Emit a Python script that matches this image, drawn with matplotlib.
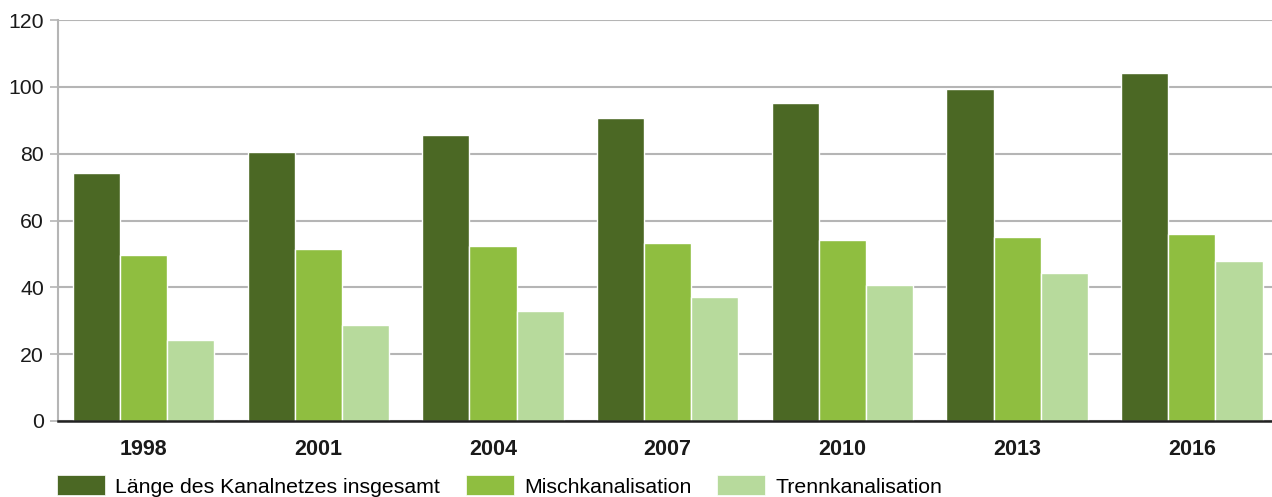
import numpy as np
import matplotlib.pyplot as plt
from matplotlib.patches import Patch

plt.rcParams['font.family'] = ['Liberation Sans', 'DejaVu Sans']

years = ['1998', '2001', '2004', '2007', '2010', '2013', '2016']
total = [74.2, 80.5, 85.6, 90.7, 95.2, 99.3, 104.1]
misch = [49.7, 51.5, 52.4, 53.3, 54.2, 55.1, 56.0]
trenn = [24.2, 28.7, 32.9, 37.1, 40.7, 44.3, 47.9]
labels = ['Länge des Kanalnetzes insgesamt', 'Mischkanalisation', 'Trennkanalisation']
colors = ['#4b6824', '#8fbe40', '#b7da9c']

fig = plt.figure(figsize=(12.72, 4.97), dpi=100)
ax = fig.add_axes([58 / 1272, 1 - 421 / 497, 1 - 58 / 1272, 401 / 497])

x = np.arange(len(years))
w = 0.27
for i, vals in enumerate([total, misch, trenn]):
    ax.bar(x + (i - 1) * w, vals, width=w, color=colors[i], edgecolor='white',
           linewidth=1, zorder=3)

ax.set_xlim(-0.49, 6.459)
ax.set_ylim(0, 120)
ax.set_yticks(range(0, 121, 20))
ax.yaxis.grid(True, color='#b5b5b5', linewidth=1.5, zorder=0)
ax.set_axisbelow(True)

ax.set_xticks(x)
ax.set_xticklabels(years, fontsize=15.5, fontweight='bold', color='#1a1a1a')
ax.tick_params(axis='x', length=0, pad=13)
ax.tick_params(axis='y', length=6, width=1.2, color='#b5b5b5', labelsize=15.3,
               labelcolor='#1a1a1a', pad=4)

for s in ['top', 'right']:
    ax.spines[s].set_visible(False)
ax.spines['left'].set_color('#b5b5b5')
ax.spines['left'].set_linewidth(1.5)
ax.spines['bottom'].set_color('#222222')
ax.spines['bottom'].set_linewidth(1.8)
ax.spines['bottom'].set_zorder(4)

handles = [Patch(facecolor=c, edgecolor='white', linewidth=0.5) for c in colors]
fig.legend(handles, labels, loc='center left', bbox_to_anchor=(57 / 1272, 1 - 486 / 497),
           ncol=3, frameon=False, borderpad=0, borderaxespad=0, fontsize=15.3,
           handlelength=2.25, handleheight=1.05, handletextpad=0.5, columnspacing=1.2)

fig.savefig('out.png', dpi=100)
